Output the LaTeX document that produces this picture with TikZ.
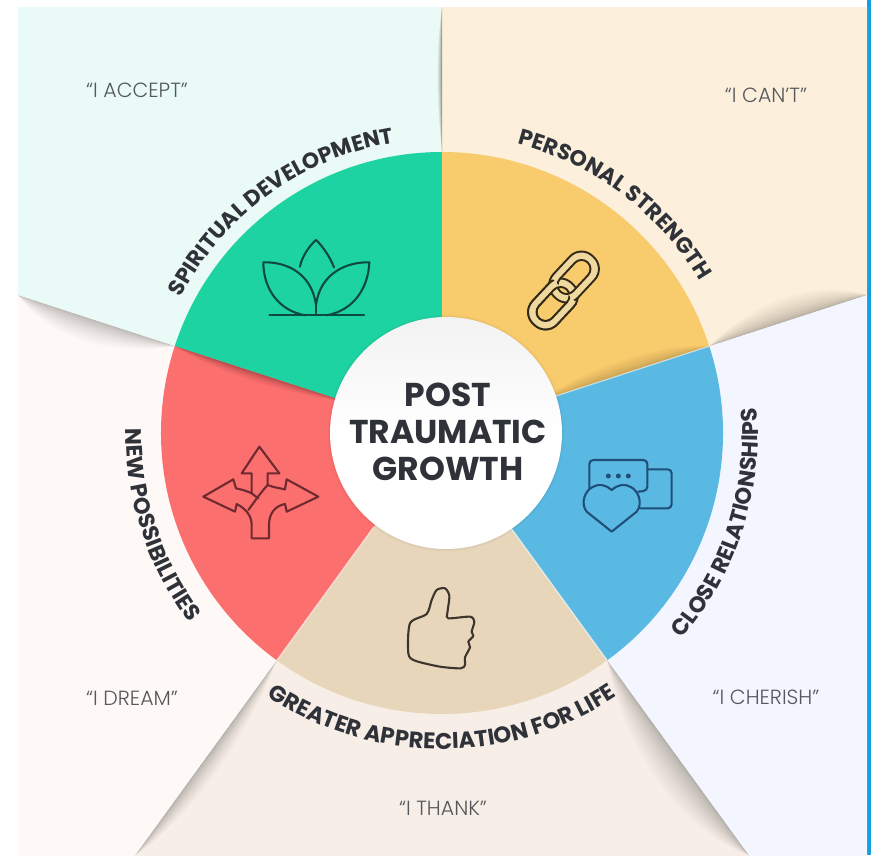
\documentclass[tikz,border=0pt]{standalone}
\usepackage{fontspec}
\usetikzlibrary{calc,decorations.text}
\setmainfont{Poppins}
\newfontfamily\poplight{Poppins}[UprightFont=* Light,BoldFont=* Medium]
\definecolor{pmint}{HTML}{EAFAF6}
\definecolor{pcream}{HTML}{FCF0DC}
\definecolor{pblue}{HTML}{F3F6FE}
\definecolor{pleft}{HTML}{FEF9F6}
\definecolor{ptan}{HTML}{F6EEE7}
\definecolor{sgreen}{HTML}{1ED3A2}
\definecolor{syellow}{HTML}{F8CB6C}
\definecolor{sblue}{HTML}{5AB9E2}
\definecolor{stan}{HTML}{E8D6BB}
\definecolor{sred}{HTML}{FB6F6E}
\definecolor{labcol}{HTML}{2F3238}
\definecolor{quotecol}{HTML}{55585C}
\definecolor{stripe}{HTML}{12A0DF}
\definecolor{linkband}{HTML}{EFD99E}
\definecolor{iconblue}{HTML}{1F4E79}
\definecolor{icongreen}{HTML}{0F4A40}
\definecolor{iconred}{HTML}{6E2A2E}
\definecolor{iconbrown}{HTML}{3C352C}
\newcommand{\panelwedge}[3]{\fill[#3] (0,0) -- (#1:1000) -- (#2:1000) -- cycle;}
\newcommand{\sectorwedge}[3]{\fill[#3] (0,0) -- (#1:281) arc[start angle=#1,end angle=#2,radius=281] -- cycle;}
\newcommand{\rayshade}[6]{%
  \foreach \w in {1,.88,.76,.65,.55,.46,.38,.3,.23,.17,.12,.08,.05,.03}{
    \fill[black,opacity=#6] (#1:#3) .. controls ($(#1:{#3+(#4-#3)*.35})+({#1+#2*90}:{#5*\w})$) and ($(#1:{#3+(#4-#3)*.75})+({#1+#2*90}:{#5*\w})$) .. (#1:#4) -- cycle;
  }}
\newcommand{\arclabel}[5]{%
  \path[decorate,decoration={text along path,text align=center,text={|\fontsize{#5}{24}\selectfont\bfseries\color{labcol}|#4}}]
    (#1:#3) arc[start angle=#1,end angle=#2,radius=#3];}
\newcommand{\chainlink}[2]{%
  \begin{scope}[shift={(#1,#2)},rotate=-47]
    \fill[linkband,even odd rule] [rounded corners=16pt] (-28,-17) rectangle (28,17) [rounded corners=9pt] (-20,-9) rectangle (20,9);
    \draw[iconchain,rounded corners=16pt] (-28,-17) rectangle (28,17);
    \draw[iconchain,rounded corners=9pt] (-20,-9) rectangle (20,9);
  \end{scope}}
\tikzset{
  iconline/.style={line width=2.1pt,line join=round,line cap=round},
  iconchain/.style={line width=1.9pt,draw=black!80!syellow},
  quotelabel/.style={font=\poplight\fontsize{20.5}{23}\selectfont,text=quotecol,inner sep=0pt},
  titletext/.style={font=\bfseries\fontsize{33}{36}\selectfont,text=labcol,align=center,inner sep=0pt}
}
\begin{document}
\begin{tikzpicture}[x=1pt,y=1pt]
\useasboundingbox (0,0) rectangle (871,855);
\fill[white] (0,0) rectangle (871,855);
\fill[stripe] (867,0) rectangle (871,855);
\begin{scope}
  \clip (18,0) rectangle (867,847);
  \begin{scope}[shift={(442,422)}]
    \panelwedge{90}{162}{pmint}
    \panelwedge{18}{90}{pcream}
    \panelwedge{-54}{18}{pblue}
    \panelwedge{-126}{-54}{ptan}
    \panelwedge{162}{234}{pleft}
    \rayshade{90}{1}{281}{425}{6}{.035}
    \rayshade{18}{1}{281}{447}{30}{.02}
    \rayshade{-54}{-1}{281}{522}{40}{.018}
    \rayshade{-126}{1}{281}{522}{22}{.02}
    \rayshade{162}{1}{281}{446}{30}{.018}
  \end{scope}
\end{scope}
\begin{scope}[shift={(442,422)}]
  \sectorwedge{90}{162}{sgreen}
  \sectorwedge{18}{90}{syellow}
  \sectorwedge{-54}{18}{sblue}
  \sectorwedge{-126}{-54}{stan}
  \sectorwedge{162}{234}{sred}
  \rayshade{162}{1}{100}{281}{12}{.022}
  \rayshade{18}{1}{100}{281}{18}{.016}
  \draw[white,opacity=.6,line width=1.2pt] (18:116) -- (18:281);
  \draw[white,opacity=.6,line width=1.2pt] (-54:116) -- (-54:281);
  \draw[white,opacity=.6,line width=1.2pt] (-126:116) -- (-126:281);
  \arclabel{162}{90}{294}{SPIRITUAL DEVELOPMENT}{22}
  \arclabel{89}{17}{299}{PERSONAL STRENGTH}{22}
  \arclabel{-54}{18}{316}{CLOSE RELATIONSHIPS}{22.5}
  \arclabel{-126}{-54}{316}{GREATER APPRECIATION FOR LIFE}{22.7}
  \arclabel{162}{234}{316}{NEW POSSIBILITIES}{22.5}
\end{scope}
% centre disc
\fill[black,opacity=.025] (446,422) circle (118.5);
\fill[black,opacity=.03] (446,422) circle (117);
\shade[top color=black!5,bottom color=white,middle color=white] (446,422) circle (116);
\node[titletext] (title) at (448,423) {POST\\[1pt]TRAUMATIC\\[1pt]GROWTH};
% quoted phrases
\node[quotelabel] (accept) at (137,765) {“I ACCEPT”};
\node[quotelabel] (cant) at (766,760) {“I CAN’T”};
\node[quotelabel] (dream) at (132,157) {“I DREAM”};
\node[quotelabel] (cherish) at (766,158) {“I CHERISH”};
\node[quotelabel] (thank) at (443,47) {“I THANK”};
% lotus
\begin{scope}[shift={(180,625)},yscale=-1,scale=1/3,iconline,draw=icongreen]
  \draw (268,256) -- (552,256);
  \draw (408,256) -- (408,210);
  \draw (360,110) .. controls (365,80) and (390,45) .. (408,30) .. controls (425,45) and (450,80) .. (462,112);
  \draw (375,256) .. controls (290,240) and (250,170) .. (250,97) .. controls (320,95) and (395,130) .. (408,225);
  \draw (440,256) .. controls (525,240) and (565,170) .. (568,97) .. controls (500,95) and (420,130) .. (408,225);
\end{scope}
% chain
\begin{scope}[shift={(0,855)},yscale=-1]
  \chainlink{553}{304}
  \chainlink{574}{277}
  \begin{scope}
    \clip (563.5,290.5) -- (620,344) -- (512,344) -- (512,236) -- cycle;
    \chainlink{553}{304}
  \end{scope}
\end{scope}
% chat and heart
\begin{scope}[shift={(560,415)},yscale=-1,scale=1/3,iconline,draw=iconblue]
  \draw[rounded corners=4pt] (88,148) -- (88,60) -- (262,60) -- (262,152) -- (235,155);
  \draw[rounded corners=4pt] (262,88) -- (335,88) -- (335,205) -- (240,205);
  \fill[iconblue] (145,108) circle (7.5) (175,108) circle (7.5) (205,108) circle (7.5);
  \draw[fill=sblue] (155,150) .. controls (140,135) and (115,130) .. (100,140) .. controls (75,150) and (60,190) .. (80,215) -- (155,275) -- (230,215) .. controls (250,190) and (235,150) .. (210,140) .. controls (195,130) and (170,135) .. (155,150) -- cycle;
\end{scope}
% arrows
\begin{scope}[shift={(190,425)},yscale=-1,scale=1/3,iconline,draw=iconred]
  \draw (185,325) -- (185,285) .. controls (185,255) and (165,235) .. (140,222) -- (135,245) -- (40,200) -- (130,148) -- (138,175) .. controls (155,178) and (175,185) .. (185,190) -- (185,130) -- (155,130) -- (208,50) -- (268,130) -- (233,130) -- (233,165) .. controls (250,172) and (270,175) .. (285,178) -- (290,148) -- (385,200) -- (290,245) -- (285,222) .. controls (255,228) and (237,250) .. (237,285) -- (237,325) -- cycle;
  \draw (175,240) .. controls (190,220) and (210,190) .. (233,165);
  \draw (185,190) -- (205,205);
\end{scope}
% thumb
\begin{scope}[shift={(390,285)},yscale=-1,scale=1/3,iconline,draw=iconbrown]
  \draw plot[smooth cycle,tension=.45] coordinates {(60,160) (110,132) (125,90) (140,60) (165,55) (178,78) (172,130) (175,145) (240,140) (253,155) (245,185) (250,198) (235,215) (240,232) (225,262) (225,285) (212,295) (150,290) (75,272) (55,250)};
\end{scope}
\end{tikzpicture}
\end{document}
